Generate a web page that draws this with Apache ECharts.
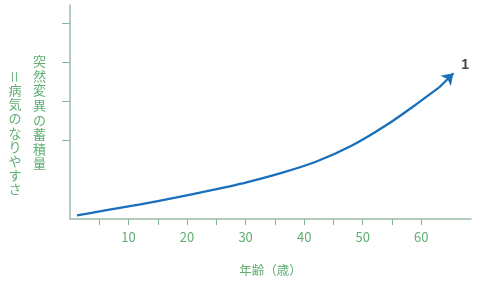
<!DOCTYPE html>
<html><head><meta charset="utf-8">
<script src="https://cdn.jsdelivr.net/npm/echarts@6/dist/echarts.min.js"></script>
<style>html,body{margin:0;padding:0;background:#fff}#c{width:500px;height:285px}</style>
</head><body><div id="c"></div>
<script>
const ages = [1.2, 6, 12, 18, 24, 30, 36, 42, 48, 54, 59, 63, 65.5];
const burden = [0.09, 0.22, 0.375, 0.545, 0.73, 0.93, 1.17, 1.46, 1.86, 2.39, 2.91, 3.35, 3.72];
const xTicks = [5, 10, 15, 20, 25, 30, 35, 40, 45, 50, 55, 60];
const xLabels = [10, 20, 30, 40, 50, 60];
const yTicks = [2, 3, 4, 5];
const endLabel = { x: 67.5, y: 3.93, text: '1' };
const xName = '年齢（歳）';
const yName1 = '突然変異の蓄積量';
const yName2Eq = '＝';
const yName2 = '病気のなりやすさ';

const pts = ages.map((a, i) => [a, burden[i]]);
const n = pts.length;
const green = '#5fae72';
const axisColor = '#9dbaa6';
const blue = '#1a6fba';
const font = '"Noto Sans CJK JP", "Noto Sans", sans-serif';

const chart = echarts.init(document.getElementById('c'));
chart.setOption({
  animation: false,
  grid: { left: 70, right: 29, top: 5, bottom: 66 },
  xAxis: {
    type: 'value', min: 0, max: 68.5,
    axisLine: { show: true, lineStyle: { color: axisColor, width: 1.5 } },
    axisTick: { show: true, length: 6, customValues: xTicks, lineStyle: { color: '#86b794', width: 1 } },
    axisLabel: { customValues: xLabels, color: green, fontSize: 13, margin: 12, fontFamily: font },
    splitLine: { show: false },
    name: xName, nameLocation: 'middle', nameGap: 45,
    nameTextStyle: { color: green, fontSize: 12.5, fontFamily: font }
  },
  yAxis: {
    type: 'value', min: 0, max: 5.46,
    axisLine: { show: true, lineStyle: { color: axisColor, width: 1.5 } },
    axisTick: { show: true, length: 8, customValues: yTicks, lineStyle: { color: '#86b794', width: 1 } },
    axisLabel: { show: false },
    splitLine: { show: false }
  },
  graphic: [
    { type: 'text', left: 33, top: 54, style: { text: yName1.split('').join('\n'), fill: green, fontSize: 13, lineHeight: 14.6, fontFamily: font, align: 'center' } },
    { type: 'text', x: 15, y: 77, rotation: -Math.PI / 2, style: { text: yName2Eq, fill: green, fontSize: 13, fontFamily: font, align: 'center', verticalAlign: 'middle' } },
    { type: 'text', left: 8.5, top: 83, style: { text: yName2.split('').join('\n'), fill: green, fontSize: 13, lineHeight: 14.2, fontFamily: font, align: 'center' } }
  ],
  series: [
    {
      type: 'line', data: pts.slice(0, n - 1), smooth: 0.2, symbol: 'none',
      lineStyle: { color: blue, width: 2.3 }
    },
    {
      type: 'lines', coordinateSystem: 'cartesian2d',
      symbol: ['none', 'arrow'], symbolSize: 11,
      lineStyle: { color: blue, width: 2.3, opacity: 1, curveness: 0 },
      itemStyle: { color: blue },
      data: [{ coords: pts.slice(n - 2) }],
      z: 3
    },
    {
      type: 'scatter', symbolSize: 0,
      data: [[endLabel.x, endLabel.y]],
      label: { show: true, position: 'inside', formatter: endLabel.text, color: '#111', fontSize: 14, fontWeight: 'bold', fontFamily: 'Liberation Sans, Arial, sans-serif' }
    }
  ]
});
</script></body></html>
